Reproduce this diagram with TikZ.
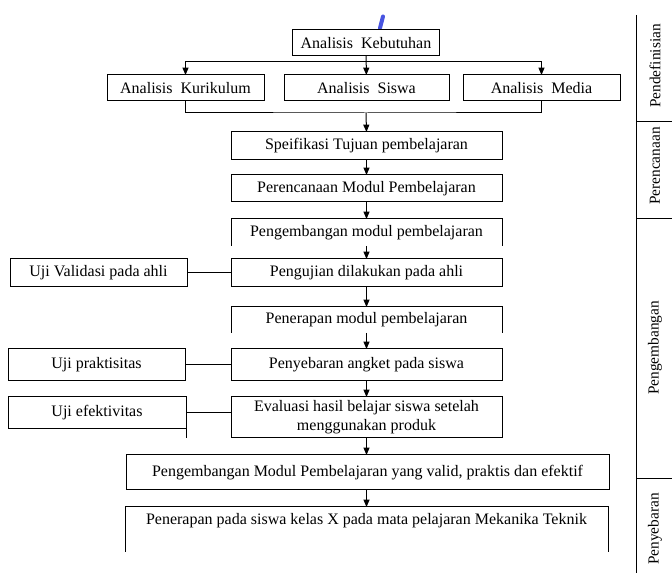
\documentclass[tikz,border=0pt]{standalone}
\usepackage{fontspec}
\setmainfont{Liberation Serif}
\usetikzlibrary{positioning,arrows.meta,calc}
\definecolor{markblue}{RGB}{72,84,224}

\begin{document}
\begin{tikzpicture}[
    x=0.75pt, y=-0.75pt,
    box/.style={draw, line width=0.75pt, inner sep=0pt, outer sep=0pt, minimum height=21pt, align=center, font=\fontsize{12}{14.25}\selectfont},
    stage/.style={box, minimum width=203.25pt},
    side/.style={box, minimum width=132.75pt},
    open/.style={box, draw=none},
    arrow/.style={-{Triangle[length=5.5pt,width=4.5pt]}, line width=0.75pt},
    link/.style={line width=0.75pt},
    phase/.style={rotate=90, font=\fontsize{11.5}{14}\selectfont},
]
\useasboundingbox (0,0) rectangle (672,573);

% stray pen mark
\draw[markblue, line width=3pt, line cap=round] (380,28) -- (383,16.5);

% Analysis (top)
\node[box, minimum width=110.25pt, minimum height=19.5pt] (keb) at (366,43) {Analisis~~Kebutuhan};
\node[box, minimum width=117.75pt, minimum height=19.5pt] (kur) at (185.5,88) {Analisis~~Kurikulum};
\node[box, minimum width=123.75pt, minimum height=19.5pt] (sis) at (366.5,88) {Analisis~~Siswa};
\node[box, minimum width=117.75pt, minimum height=19.5pt] (med) at (541.5,88) {Analisis~~Media};

\coordinate (split) at (366,62);
\coordinate (join) at (366,113);
\draw[arrow] (keb) -- (sis);
\draw[arrow] (split) -| (kur.north);
\draw[arrow] (split) -| (med.north);
\draw[link] (kur.south) |- (join) -| (med.south);

% Main column
\node[stage, minimum height=21pt] (spes) at (366.5,146) {Speifikasi Tujuan pembelajaran};
\node[stage, minimum height=20.25pt] (ren) at (366.5,188.5) {Perencanaan Modul Pembelajaran};
\node[open, minimum width=203.25pt, minimum height=20.25pt] (pgm) at (366.5,232.5) {Pengembangan modul pembelajaran};
\node[stage, minimum height=21pt] (uji) at (366.5,273) {Pengujian dilakukan pada ahli};
\node[open, minimum width=203.25pt, minimum height=19.5pt] (pnr) at (366.5,320) {Penerapan modul pembelajaran};
\node[stage, minimum height=24pt] (sebar) at (366.5,365) {Penyebaran angket pada siswa};
\node[stage, minimum height=30.75pt] (eval) at (366.5,417.5) {Evaluasi hasil belajar siswa setelah\\menggunakan produk};
\node[box, minimum width=362.25pt, minimum height=26.25pt] (valid) at (367.5,472.5) {Pengembangan Modul Pembelajaran yang valid, praktis dan efektif};
\node[open, minimum width=362.25pt, minimum height=21pt] (final) at (366.5,521) {Penerapan pada siswa kelas X pada mata pelajaran Mekanika Teknik};

\draw[link] (pgm.south west) -- (pgm.north west) -- (pgm.north east) -- (pgm.south east);
\draw[link] (pnr.south west) -- (pnr.north west) -- (pnr.north east) -- (pnr.south east);
\draw[link] ($(final.south west)+(0,17)$) -- (final.north west) -- (final.north east) -- ($(final.south east)+(0,17)$);

\draw[arrow] (join) -- (spes.north);
\draw[arrow] (spes) -- (ren);
\draw[arrow] (ren) -- (pgm);
\draw[arrow] (pgm) -- (uji);
\draw[arrow] (uji) -- (pnr);
\draw[arrow] (pnr) -- (sebar);
\draw[arrow] (sebar) -- (eval);
\draw[arrow] (eval.south) -- (eval.south |- valid.north);
\draw[arrow] (valid.south -| final) -- (final.north);

% Tests (left)
\node[side, minimum height=21pt] (val) at (98.5,273) {Uji Validasi pada ahli};
\node[side, minimum height=24pt] (prak) at (96.5,365) {Uji praktisitas};
\node[side, minimum width=133.5pt, minimum height=24pt] (efek) at (97,413) {Uji efektivitas};
\draw[link] (efek.south east) -- ++(0,9);

\draw[link] (val) -- (uji);
\draw[link] (prak) -- (sebar);
\draw[link] (efek.east) -- (efek.east -| eval.west);

% Phases (right)
\draw[link] (636,15) -- (636,573);
\foreach \y in {122,219,479}
    \draw[link] (636,\y) -- (672,\y);
\node[phase] (def) at (655,66) {Pendefinisian};
\node[phase] (pcn) at (655,166) {Perencanaan};
\node[phase] (dev) at (655,348) {Pengembangan};
\node[phase] (dis) at (655,529) {Penyebaran};

\end{tikzpicture}
\end{document}
